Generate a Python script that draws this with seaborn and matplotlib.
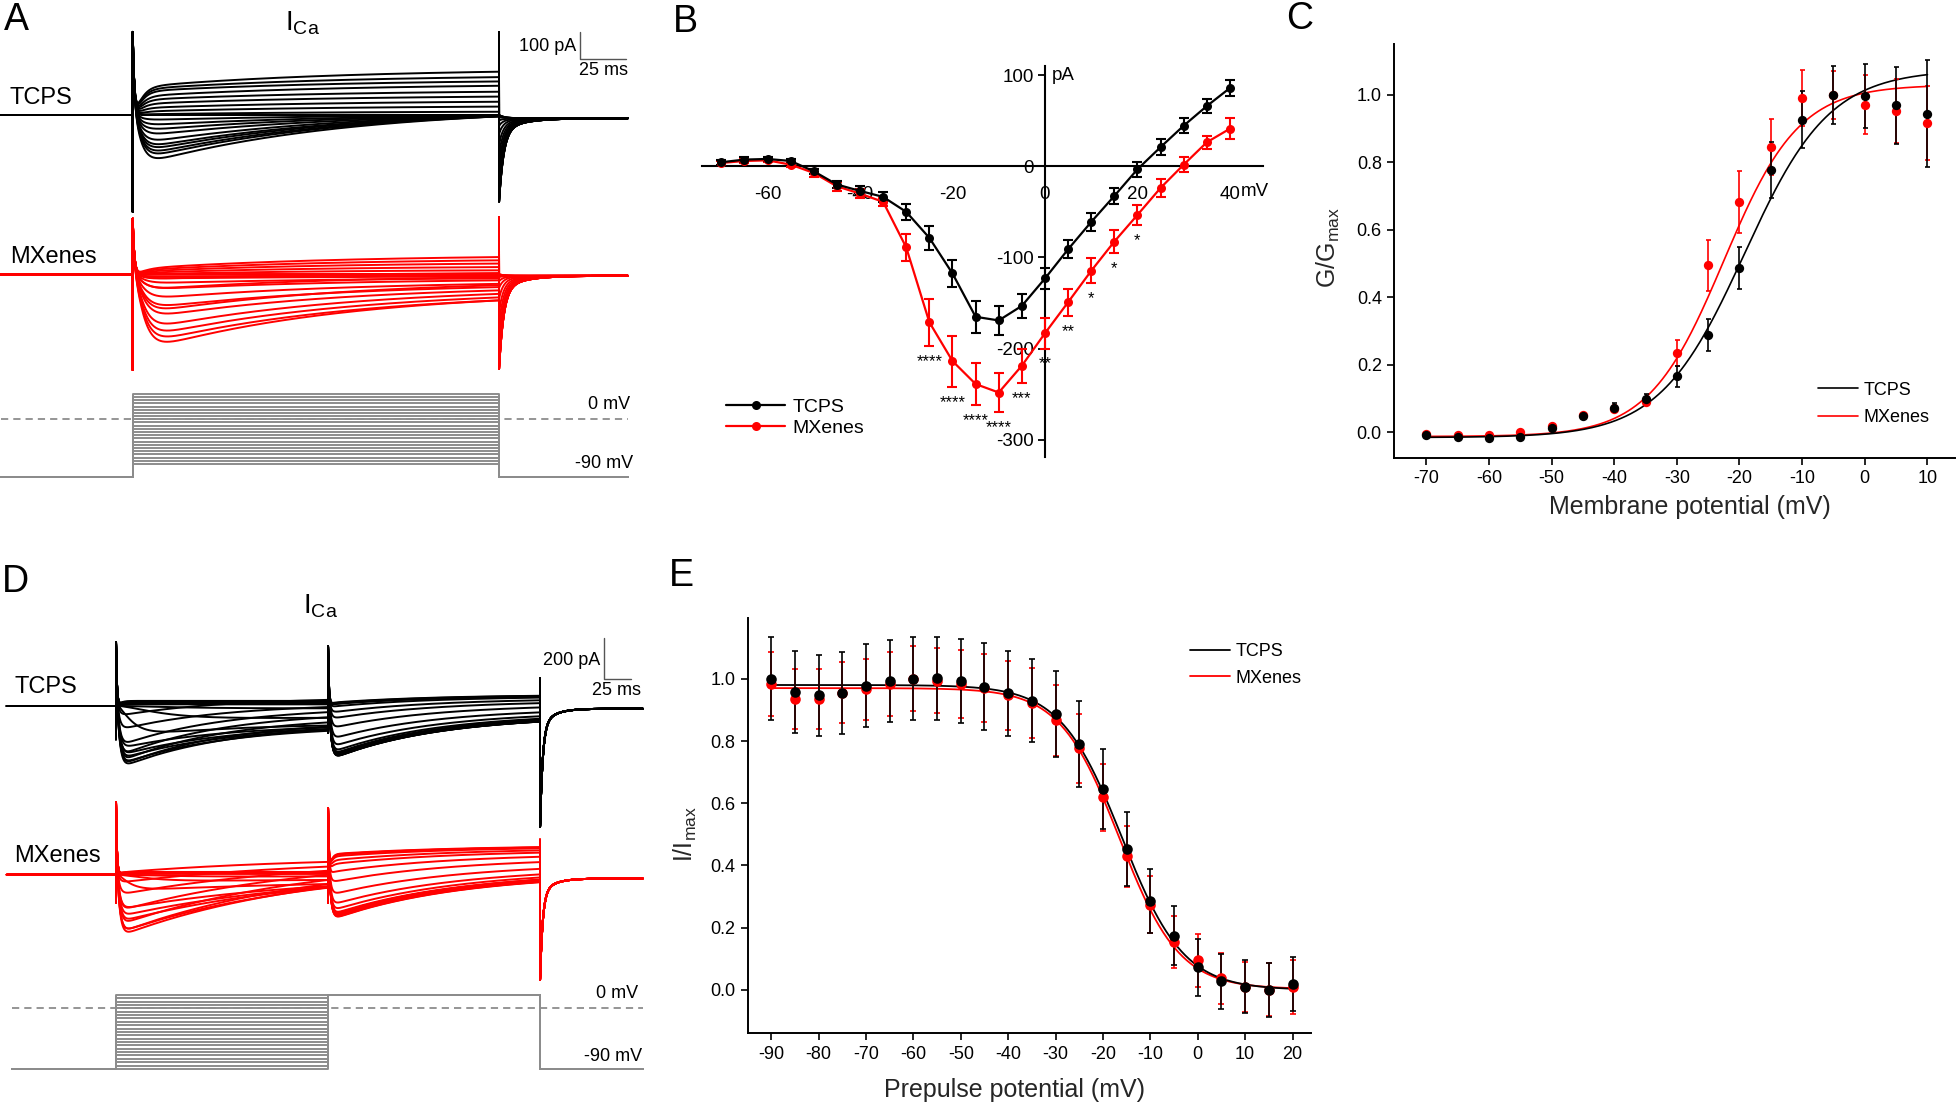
import numpy as np
import pandas as pd
import matplotlib
matplotlib.use("Agg")
import matplotlib.pyplot as plt
from matplotlib.lines import Line2D
import seaborn as sns

sns.set_theme(style="white")
plt.rcParams.update({
    'font.family': ['Liberation Sans', 'DejaVu Sans'],
    'mathtext.fontset': 'custom',
    'mathtext.rm': 'Liberation Sans',
    'mathtext.it': 'Liberation Sans:italic',
    'mathtext.bf': 'Liberation Sans:bold',
    'axes.unicode_minus': False,
    'text.color': 'black',
    'xtick.color': 'black',
    'ytick.color': 'black',
})

BLACK = '#000000'
RED = '#ff0000'
GRAY = '#8c8c8c'

# ---------------- Panel B : I-V ----------------
iv_v = [-70, -65, -60, -55, -50, -45, -40, -35, -30, -25, -20, -15, -10, -5, 0, 5, 10, 15, 20, 25, 30, 35, 40]
iv_tcps = [4.4, 7.3, 8.0, 5.8, -5.5, -20, -27, -33.6, -50, -78.5, -117.5, -165, -169, -153, -123, -91, -61, -32.5, -3.3, 21, 44.5, 66, 85.8]
iv_tcps_err = [2.5, 2.5, 2.5, 2.5, 3, 4, 5, 5.5, 8.7, 13, 15, 17.5, 15.5, 13, 11.5, 10, 10, 9, 8.5, 8.5, 8.5, 8, 8.5]
iv_mx = [3.6, 5.8, 6.5, 1.8, -7.3, -22, -30, -39, -89, -171, -213.5, -238.7, -248, -218.6, -183, -149, -114.6, -82.5, -53.3, -23.7, 1.8, 26.3, 41.2]
iv_mx_err = [2, 2, 2, 2.5, 4, 5, 5, 4.5, 14.6, 26, 28, 23, 21, 18.6, 16.8, 15, 13.7, 12.5, 11, 10, 8, 7, 11.3]
star_v = [-25, -20, -15, -10, -5, 0, 5, 10, 15, 20]
star_txt = ['****', '****', '****', '****', '***', '**', '**', '*', '*', '*']

# ---------------- Panel C : activation ----------------
gv_v = [-70, -65, -60, -55, -50, -45, -40, -35, -30, -25, -20, -15, -10, -5, 0, 5, 10]
gv_tcps = [-0.008, -0.013, -0.016, -0.013, 0.012, 0.049, 0.074, 0.099, 0.166, 0.289, 0.488, 0.778, 0.927, 1.0, 0.998, 0.970, 0.945]
gv_tcps_err = [0.005, 0.005, 0.006, 0.006, 0.008, 0.008, 0.012, 0.015, 0.032, 0.048, 0.063, 0.083, 0.085, 0.085, 0.095, 0.114, 0.159]
gv_mx = [-0.005, -0.008, -0.008, 0.0, 0.02, 0.052, 0.071, 0.091, 0.235, 0.495, 0.683, 0.846, 0.991, 1.0, 0.971, 0.953, 0.916]
gv_mx_err = [0.004, 0.004, 0.005, 0.005, 0.006, 0.006, 0.010, 0.010, 0.038, 0.076, 0.092, 0.082, 0.083, 0.070, 0.088, 0.095, 0.110]
# Boltzmann fit parameters: bottom, top, V1/2, slope
gv_fit_tcps = [-0.015, 1.075, -19.2, 6.8]
gv_fit_mx = [-0.012, 1.03, -22.5, 6.0]

# ---------------- Panel E : steady-state inactivation ----------------
ss_v = [-90, -85, -80, -75, -70, -65, -60, -55, -50, -45, -40, -35, -30, -25, -20, -15, -10, -5, 0, 5, 10, 15, 20]
ss_tcps = [1.0, 0.958, 0.947, 0.955, 0.978, 0.992, 1.0, 1.002, 0.992, 0.975, 0.953, 0.929, 0.886, 0.79, 0.645, 0.453, 0.286, 0.174, 0.073, 0.028, 0.011, 0.0, 0.02]
ss_tcps_err = [0.133, 0.131, 0.13, 0.132, 0.133, 0.131, 0.134, 0.133, 0.135, 0.139, 0.136, 0.133, 0.139, 0.137, 0.129, 0.118, 0.104, 0.095, 0.092, 0.089, 0.085, 0.087, 0.087]
ss_mx = [0.983, 0.935, 0.935, 0.955, 0.966, 0.983, 1.0, 0.994, 0.983, 0.97, 0.947, 0.922, 0.866, 0.776, 0.619, 0.429, 0.274, 0.155, 0.095, 0.037, 0.009, 0.0, 0.009]
ss_mx_err = [0.103, 0.095, 0.095, 0.098, 0.098, 0.102, 0.105, 0.105, 0.109, 0.109, 0.111, 0.111, 0.114, 0.112, 0.108, 0.099, 0.092, 0.084, 0.084, 0.081, 0.081, 0.085, 0.087]
ss_fit_tcps = [0.0, 0.98, -16.0, 6.5]
ss_fit_mx = [0.003, 0.97, -16.5, 6.3]

# ---------------- Panel A : current traces (pA) ----------------
a_steps = [-70, -65, -60, -55, -50, -45, -40, -35, -30, -25, -20, -15, -10, -5, 0, 5, 10, 15, 20, 25, 30, 35, 40]
a_tcps_peak = [0, 0, 1, 0, -20, -41, -61, -82, -110, -130, -143, -158, -171, -192, 2, 12, 25, 40, 55, 68, 86, 94, 102]
a_tcps_late = [0, 0, 0, 0, -1, -2, -2, -3, -3, -4, -4, -5, -5, -5, 12, 31, 49, 68, 86, 108, 124, 140, 160]
a_tcps_tail = [0, 0, 0, -2, -8, -20, -40, -70, -110, -150, -190, -230, -260, -285, -300, -310, -318, -322, -326, -326, -326, -326, -326]
a_mx_peak = [0, 0, 1, 0, -10, -16, -35, -59, -96, -133, -170, -214, -244, -269, -294, -150, -60, -20, 0, 5, 10, 15, 20]
a_mx_late = [0, 0, 0, 0, -4, -8, -15, -22, -35, -47, -59, -72, -85, -96, -96, -40, -10, 5, 15, 27, 40, 52, 64]
a_mx_tail = [0, 0, 0, -2, -10, -25, -50, -90, -140, -190, -240, -280, -310, -330, -345, -350, -355, -355, -355, -355, -355, -355, -355]
a_tcps_cap = [-357, 307, 305, -12]   # on-down, on-up, off-up, post baseline
a_mx_cap = [-353, 206, 211, -5]

# ---------------- Panel D : two-pulse traces (pA) ----------------
d_pre = [-90, -85, -80, -75, -70, -65, -60, -55, -50, -45, -40, -35, -30, -25, -20, -15, -10, -5, 0, 5, 10, 15, 20]
d_tcps_pre_peak = [8, 10, 12, 14, 16, 18, 20, 22, 25, -20, -76, -157, -211, -247, -265, -292, -310, -300, -280, -250, -200, -120, -50]
d_tcps_pre_late = [8, 10, 12, 14, 16, 18, 20, 22, 25, -12, -58, -95, -105, -112, -118, -121, -115, -100, -80, -55, -30, -5, 30]
d_tcps_act = [3, 3, 3, 3, 3, 3, 3, 3, 3, 60, 35, 12, 2.5, 2.5, 2.5, 2.5, 2.5, 2.5, 2.5, 2.5, 2.5, 2.5, 2.5]
d_tcps_test_peak = [-265, -253, -250, -252, -259, -263, -265, -266, -263, -258, -252, -245, -233, -206, -166, -112, -65, -34, -5, 7, 12, 15, 9]
d_tcps_test_late = [-76, -71, -69, -70, -73, -75, -76, -76, -75, -73, -70, -67, -62, -50, -31, -7, 14, 28, 41, 46, 49, 50, 47]
d_mx_pre_peak = [5, 6, 7, 8, 9, 10, 11, 12, 14, -15, -36, -81, -171, -207, -234, -288, -306, -290, -250, -180, -100, -40, 10]
d_mx_pre_late = [5, 6, 7, 8, 9, 10, 11, 12, 14, -8, -25, -45, -55, -60, -62, -63, -60, -45, -25, 0, 20, 40, 63]
d_mx_act = [3, 3, 3, 3, 3, 3, 3, 3, 3, 50, 25, 10, 2.5, 2.5, 2.5, 2.5, 2.5, 2.5, 2.5, 2.5, 2.5, 2.5, 2.5]
d_mx_test_peak = [-219, -204, -204, -210, -214, -219, -225, -223, -219, -215, -208, -200, -181, -152, -101, -39, 11, 50, 69, 88, 97, 100, 97]
d_mx_test_late = [-33, -25, -25, -28, -30, -33, -36, -35, -33, -31, -27, -23, -13, 2, 29, 62, 88, 108, 119, 129, 133, 135, 133]
d_tcps_cap = [-162, 312, -130, 290, 135, -598, -13]   # on dn/up, test dn/up, off-up, tail, post
d_mx_cap = [-135, 355, -135, 324, 171, -520, -18]
d_test_drawn = 20

# ---------------- figure helpers ----------------
W, H = 1960, 1106
fig = plt.figure(figsize=(W / 100, H / 100), dpi=100)
fig.patch.set_facecolor('white')


def box(x0, y0, x1, y1):
    return fig.add_axes([x0 / W, 1 - y1 / H, (x1 - x0) / W, (y1 - y0) / H])


def ftext(x, y, s, **kw):
    fig.text(x / W, 1 - y / H, s, **kw)


def seg_current(tt, peak, late, T, tau_a, tau_d):
    act = (1.0 - np.exp(-tt / tau_a)) ** 2
    frac = (np.exp(-tt / tau_d) - np.exp(-T / tau_d)) / (1.0 - np.exp(-T / tau_d))
    return act * (late + (peak - late) * frac)


def tail_curve(dt, tail, post):
    return tail * (0.85 * np.exp(-dt / 2.5) + 0.15 * np.exp(-dt / 12.0)) + post * (1 - np.exp(-dt / 3.0))


def sweep_A(peak, late, tail, cap, tau_d, tau_a, t0, t1):
    dn, up, off_up, post = cap
    T = 200.0
    tt = np.arange(0.25, T + 1e-9, 0.25)
    seg = seg_current(tt, peak, late, T, tau_a, tau_d) + up * np.exp(-tt / 0.9)
    dt = np.arange(0.05, t1 - T, 0.25)
    t = np.concatenate([[t0, 0.0, 0.0, 0.05], tt, [T], T + dt])
    i = np.concatenate([[0.0, 0.0, dn, up], seg, [off_up], tail_curve(dt, tail, post)])
    return t, i


def sweep_D(pp, pl, pa, tp, tl, cap, tau_pre, tau_test, t0, t1):
    dn1, up1, dn2, up2, off_up, tail, post = cap
    T = 200.0
    tt = np.arange(0.25, T + 1e-9, 0.25)
    s1 = seg_current(tt, pp, pl, T, pa, tau_pre) + up1 * np.exp(-tt / 0.9)
    s2 = seg_current(tt, tp, tl, T, 2.0, tau_test) + up2 * np.exp(-tt / 0.9)
    dt = np.arange(0.05, t1 - 2 * T, 0.25)
    t = np.concatenate([[t0, 0.0, 0.0, 0.05], tt, [T, T + 0.05], T + tt, [2 * T], 2 * T + dt])
    i = np.concatenate([[0.0, 0.0, dn1, up1], s1, [dn2, up2], s2, [off_up], tail_curve(dt, tail, post)])
    return t, i


def to_df(traces, offset):
    frames = []
    for k, (t, i) in enumerate(traces):
        frames.append(pd.DataFrame({'t': t, 'I': np.asarray(i) + offset, 'sweep': k}))
    return pd.concat(frames, ignore_index=True)


def draw_traces(ax, df, color, lw=1.4):
    sns.lineplot(data=df, x='t', y='I', units='sweep', estimator=None, sort=False,
                 color=color, lw=lw, ax=ax, legend=False)


LETTER = dict(fontsize=27, ha='center', va='center')
ICA = r'I$_{\mathregular{Ca}}$'

# =============== Panel A ===============
A_T0, A_T1 = -72.0, 270.5
A_RED_OFF = -589
axA = box(0, 0, 640, 380)
axA.set_xlim(-72.45, 277.0)
axA.set_ylim(-979.3, 425.0)
tr_k = [sweep_A(p, l, tl, a_tcps_cap, 110, 3.5, A_T0, A_T1) for p, l, tl in zip(a_tcps_peak, a_tcps_late, a_tcps_tail)]
tr_r = [sweep_A(p, l, tl, a_mx_cap, 110, 4.5, A_T0, A_T1) for p, l, tl in zip(a_mx_peak, a_mx_late, a_mx_tail)]
draw_traces(axA, to_df(tr_k, 0), BLACK)
draw_traces(axA, to_df(tr_r, A_RED_OFF), RED)
# scale bar 100 pA / 25 ms
axA.plot([244.2, 244.2, 269.2], [305.6, 205.6, 205.6], color='#555555', lw=1.0)
axA.text(242.0, 252, '100 pA', ha='right', va='center', fontsize=13)
axA.text(257.3, 166, '25 ms', ha='center', va='center', fontsize=13)
axA.axis('off')

axAp = box(0, 380, 640, 490)
axAp.set_xlim(-72.45, 277.0)
axAp.set_ylim(-110.85, 61.6)
prot = []
for k, v in enumerate(a_steps):
    prot.append(pd.DataFrame({'t': [-72.0, 0, 0, 200, 200, 270.5],
                              'V': [-90, -90, v, v, -90, -90], 'sweep': k}))
sns.lineplot(data=pd.concat(prot), x='t', y='V', units='sweep', estimator=None, sort=False,
             color=GRAY, lw=1.4, ax=axAp, legend=False)
axAp.plot([-72.0, 270.5], [0, 0], color=GRAY, lw=1.3, ls=(0, (4, 2.8)))
axAp.text(271.5, 23.5, '0 mV', ha='right', va='center', fontsize=13)
axAp.text(273.0, -69, '-90 mV', ha='right', va='center', fontsize=13)
axAp.axis('off')

ftext(16, 20, 'A', **LETTER)
ftext(302, 23, ICA, fontsize=20, ha='center', va='center')
ftext(10, 98, 'TCPS', fontsize=17, ha='left', va='center')
ftext(10, 257, 'MXenes', fontsize=17, ha='left', va='center')

# =============== Panel D ===============
D_T0, D_T1 = -103.0, 497.0
D_RED_OFF = -823.4
axD = box(0, 590, 660, 1000)
axD.set_xlim(-109.4, 513.2)
axD.set_ylim(-1434.1, 565.9)
trd_k = [sweep_D(a, b, c, d, e, d_tcps_cap, 100, 100, D_T0, D_T1)
         for a, b, c, d, e in zip(d_tcps_pre_peak, d_tcps_pre_late, d_tcps_act, d_tcps_test_peak, d_tcps_test_late)]
trd_r = [sweep_D(a, b, c, d, e, d_mx_cap, 180, 120, D_T0, D_T1)
         for a, b, c, d, e in zip(d_mx_pre_peak, d_mx_pre_late, d_mx_act, d_mx_test_peak, d_mx_test_late)]
draw_traces(axD, to_df(trd_k, 0), BLACK)
draw_traces(axD, to_df(trd_r, D_RED_OFF), RED)
axD.plot([460.4, 460.4, 485.4], [330.2, 130.2, 130.2], color='#555555', lw=1.0)
axD.text(456.6, 224, '200 pA', ha='right', va='center', fontsize=13)
axD.text(472.4, 78, '25 ms', ha='center', va='center', fontsize=13)
axD.axis('off')

axDp = box(0, 985, 660, 1100)
axDp.set_xlim(-109.4, 513.2)
axDp.set_ylim(-136, 34.5)
protd = []
for k, v in enumerate(d_pre):
    protd.append(pd.DataFrame({'t': [-98.0, 0, 0, 200, 200, 400, 400, 497.0],
                               'V': [-90, -90, v, v, d_test_drawn, d_test_drawn, -90, -90], 'sweep': k}))
sns.lineplot(data=pd.concat(protd), x='t', y='V', units='sweep', estimator=None, sort=False,
             color=GRAY, lw=1.4, ax=axDp, legend=False)
axDp.plot([-98.0, 497.0], [0, 0], color=GRAY, lw=1.3, ls=(0, (4, 2.8)))
axDp.text(492.7, 21.2, '0 mV', ha='right', va='center', fontsize=13)
axDp.text(495.9, -71.8, '-90 mV', ha='right', va='center', fontsize=13)
axDp.axis('off')

ftext(15, 582, 'D', **LETTER)
ftext(320, 606, ICA, fontsize=20, ha='center', va='center')
ftext(14, 687, 'TCPS', fontsize=17, ha='left', va='center')
ftext(14, 856, 'MXenes', fontsize=17, ha='left', va='center')

# =============== Panel B ===============
axB = box(702.3, 65.9, 1262.8, 457.3)
axB.set_xlim(-74.1, 47.1)
axB.set_ylim(-319, 110)
for vals, errs, col in [(iv_mx, iv_mx_err, RED), (iv_tcps, iv_tcps_err, BLACK)]:
    axB.errorbar(iv_v, vals, yerr=errs, fmt='none', ecolor=col, elinewidth=1.5,
                 capsize=3.6, capthick=1.5, zorder=3)
    sns.lineplot(x=iv_v, y=vals, color=col, lw=1.6, marker='o', markersize=6.5,
                 markeredgewidth=0, ax=axB, zorder=4)
for v, s in zip(star_v, star_txt):
    k = iv_v.index(v)
    axB.text(v, iv_mx[k] - iv_mx_err[k] - 22, s, ha='center', va='baseline', fontsize=12)
sns.despine(ax=axB)
axB.spines['left'].set_position(('data', 0))
axB.spines['bottom'].set_position(('data', 0))
for sp in ('left', 'bottom'):
    axB.spines[sp].set_linewidth(1.5)
    axB.spines[sp].set_color('black')
axB.set_xticks([-60, -40, -20, 0, 20, 40])
axB.set_yticks([-300, -200, -100, 0, 100])
axB.tick_params(axis='y', left=True, direction='out', length=4.8, width=1.3, pad=3, labelsize=13.5)
axB.tick_params(axis='x', bottom=True, length=0, pad=14, labelsize=13.5)
axB.set_xlabel('')
axB.set_ylabel('')
axB.text(1.5, 100, 'pA', ha='left', va='center', fontsize=13.5)
axB.text(42.4, -28, 'mV', ha='left', va='center', fontsize=13.5)
axB.set_facecolor('none')
handlesB = [Line2D([], [], color=BLACK, lw=1.6, marker='o', ms=6.5, mew=0),
            Line2D([], [], color=RED, lw=1.6, marker='o', ms=6.5, mew=0)]
fig.legend(handlesB, ['TCPS', 'MXenes'], loc='center left', bbox_to_anchor=(726.4 / W, 1 - 417.5 / H),
           frameon=False, fontsize=14, handlelength=3.0, handletextpad=0.4, labelspacing=0.2,
           borderpad=0, borderaxespad=0)
ftext(685, 22, 'B', **LETTER)


# =============== Panel C ===============
def boltz_act(v, p):
    b, t, vh, k = p
    return b + (t - b) / (1 + np.exp((vh - v) / k))


def boltz_inact(v, p):
    b, t, vh, k = p
    return b + (t - b) / (1 + np.exp((v - vh) / k))


def style_xy(ax):
    sns.despine(ax=ax)
    for sp in ('left', 'bottom'):
        ax.spines[sp].set_linewidth(1.4)
        ax.spines[sp].set_color('black')
    ax.tick_params(axis='both', left=True, bottom=True, direction='out', length=5, width=1.2,
                   pad=4, labelsize=13)
    ax.set_facecolor('none')


axC = box(1394.3, 43.7, 1955, 457.8)
axC.set_xlim(-75.1, 14.4)
axC.set_ylim(-0.075, 1.152)
vf = np.linspace(-70, 10, 400)
for vals, errs, p, col in [(gv_mx, gv_mx_err, gv_fit_mx, RED), (gv_tcps, gv_tcps_err, gv_fit_tcps, BLACK)]:
    sns.lineplot(x=vf, y=boltz_act(vf, p), color=col, lw=1.2, ax=axC, zorder=2)
    axC.errorbar(gv_v, vals, yerr=errs, fmt='none', ecolor=col, elinewidth=1.2, capsize=1.8,
                 capthick=1.2, zorder=3)
    sns.scatterplot(x=gv_v, y=vals, color=col, s=45, linewidth=0, ax=axC, zorder=4)
style_xy(axC)
axC.set_xticks(range(-70, 11, 10))
axC.set_yticks([0.0, 0.2, 0.4, 0.6, 0.8, 1.0])
axC.set_yticklabels(['0.0', '0.2', '0.4', '0.6', '0.8', '1.0'])
axC.set_xlabel('Membrane potential (mV)', fontsize=18)
axC.set_ylabel(r'G/G$_{\mathregular{max}}$', fontsize=18)
axC.xaxis.label.set_va('center')
axC.yaxis.label.set_va('center')
axC.xaxis.set_label_coords(0.527, -0.119)
axC.yaxis.set_label_coords(-0.117, 0.507)
handlesC = [Line2D([], [], color=BLACK, lw=1.2), Line2D([], [], color=RED, lw=1.2)]
fig.legend(handlesC, ['TCPS', 'MXenes'], loc='center left', bbox_to_anchor=(1818 / W, 1 - 404 / H),
           frameon=False, fontsize=13, handlelength=2.2, handletextpad=0.3, labelspacing=0.6,
           borderpad=0, borderaxespad=0)
ftext(1300, 19, 'C', **LETTER)

# =============== Panel E ===============
axE = box(748.2, 618.4, 1311.4, 1033.2)
axE.set_xlim(-94.86, 23.98)
axE.set_ylim(-0.139, 1.194)
vf2 = np.linspace(-90, 20, 400)
for vals, errs, p, col in [(ss_mx, ss_mx_err, ss_fit_mx, RED), (ss_tcps, ss_tcps_err, ss_fit_tcps, BLACK)]:
    sns.lineplot(x=vf2, y=boltz_inact(vf2, p), color=col, lw=1.3, ax=axE, zorder=2)
    axE.errorbar(ss_v, vals, yerr=errs, fmt='none', ecolor=col, elinewidth=1.2, capsize=2.1,
                 capthick=1.2, zorder=3)
    sns.scatterplot(x=ss_v, y=vals, color=col, s=58, linewidth=0, ax=axE, zorder=4)
style_xy(axE)
axE.set_xticks(range(-90, 21, 10))
axE.set_yticks([0.0, 0.2, 0.4, 0.6, 0.8, 1.0])
axE.set_yticklabels(['0.0', '0.2', '0.4', '0.6', '0.8', '1.0'])
axE.set_xlabel('Prepulse potential (mV)', fontsize=18)
axE.set_ylabel(r'I/I$_{\mathregular{max}}$', fontsize=18)
axE.xaxis.label.set_va('center')
axE.yaxis.label.set_va('center')
axE.xaxis.set_label_coords(0.472, -0.137)
axE.yaxis.set_label_coords(-0.1115, 0.481)
handlesE = [Line2D([], [], color=BLACK, lw=1.3), Line2D([], [], color=RED, lw=1.3)]
fig.legend(handlesE, ['TCPS', 'MXenes'], loc='center left', bbox_to_anchor=(1190 / W, 1 - 665 / H),
           frameon=False, fontsize=13, handlelength=2.2, handletextpad=0.3, labelspacing=0.5,
           borderpad=0, borderaxespad=0)
ftext(681, 576, 'E', **LETTER)

fig.savefig('out.png', dpi=100, facecolor='white')
